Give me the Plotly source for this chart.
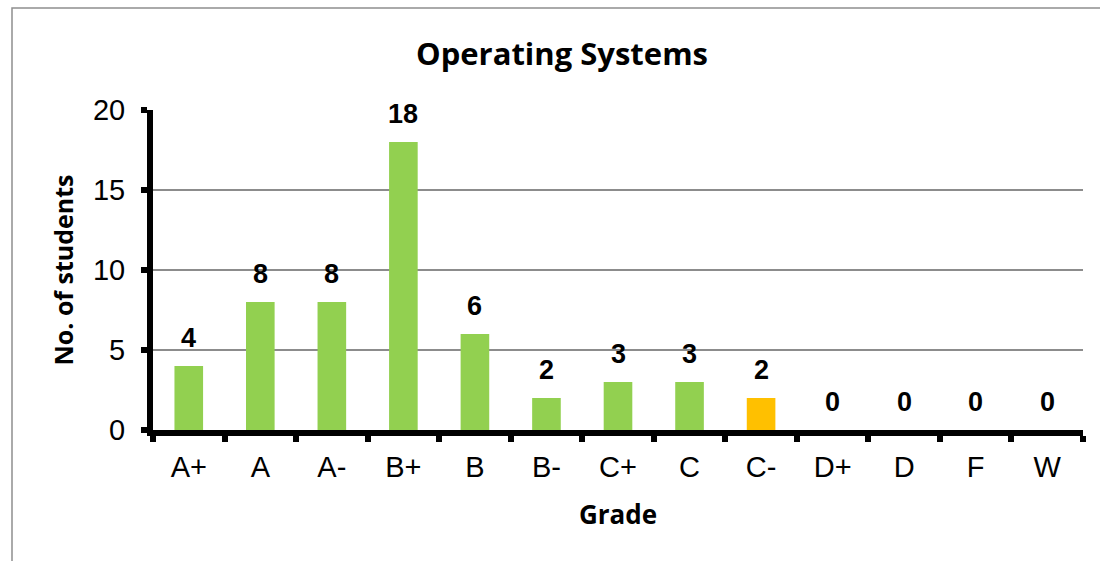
import plotly.graph_objects as go

grades = ["A+", "A", "A-", "B+", "B", "B-", "C+", "C", "C-", "D+", "D", "F", "W"]
students = [4, 8, 8, 18, 6, 2, 3, 3, 2, 0, 0, 0, 0]
bar_colors = ["#92D050"] * 8 + ["#FFC000"] + ["#92D050"] * 4
y_ticks = [0, 5, 10, 15, 20]

# plot area in pixels
L, R, T, B = 153, 1083, 110, 430
W, H = 1100, 561

def px_x(p):
    return (p - L) / (R - L)

def px_y(p):
    return (B - p) / (B - T)

fig = go.Figure()
fig.add_trace(go.Bar(
    x=grades, y=students,
    marker=dict(color=bar_colors, line=dict(width=0)),
    width=0.4,
    hoverinfo="x+y",
))

for g, v in zip(grades, students):
    fig.add_annotation(
        x=g, y=v, text=f"<b>{v}</b>", showarrow=False,
        yshift=28, yanchor="middle",
        font=dict(family="Liberation Sans, Arial", size=27, color="black"),
    )

# outer chart frame
fig.add_shape(type="rect", xref="paper", yref="paper",
              x0=px_x(12), x1=px_x(1110), y0=px_y(575), y1=px_y(8),
              line=dict(color="#8f8f8f", width=1.5), layer="below")

fig.update_layout(
    width=W, height=H,
    margin=dict(l=L, r=W - R, t=T, b=H - B, pad=0),
    paper_bgcolor="white", plot_bgcolor="white",
    showlegend=False,
    title=dict(text="<b>Operating Systems</b>", xref="container", yref="container",
               x=562 / W, y=1 - 54 / H, xanchor="center", yanchor="middle",
               font=dict(family="Open Sans", size=31, color="black")),
    bargap=0.6,
)
fig.update_xaxes(
    type="category", tickson="boundaries",
    showline=True, linecolor="black", linewidth=6,
    ticks="outside", ticklen=6, tickwidth=6, tickcolor="black",
    ticklabelstandoff=6,
    tickfont=dict(family="Liberation Sans, Arial", size=29, color="black"),
    title=dict(text="<b>Grade</b>", standoff=26,
               font=dict(family="Open Sans", size=26, color="black")),
    showgrid=False, zeroline=False,
)
fig.update_yaxes(
    range=[0, 20], tickvals=y_ticks,
    showline=True, linecolor="black", linewidth=6,
    ticks="outside", ticklen=6, tickwidth=6, tickcolor="black",
    ticklabelstandoff=10,
    tickfont=dict(family="Liberation Sans, Arial", size=29, color="black"),
    showgrid=True, gridcolor="#8c8c8c", gridwidth=2,
    zeroline=False,
    title=dict(text="<b>No. of students</b>", standoff=14,
               font=dict(family="Open Sans", size=25, color="black")),
)

fig.write_html("out.html", config={"displayModeBar": False},
               post_script="document.body.style.margin='0';")
